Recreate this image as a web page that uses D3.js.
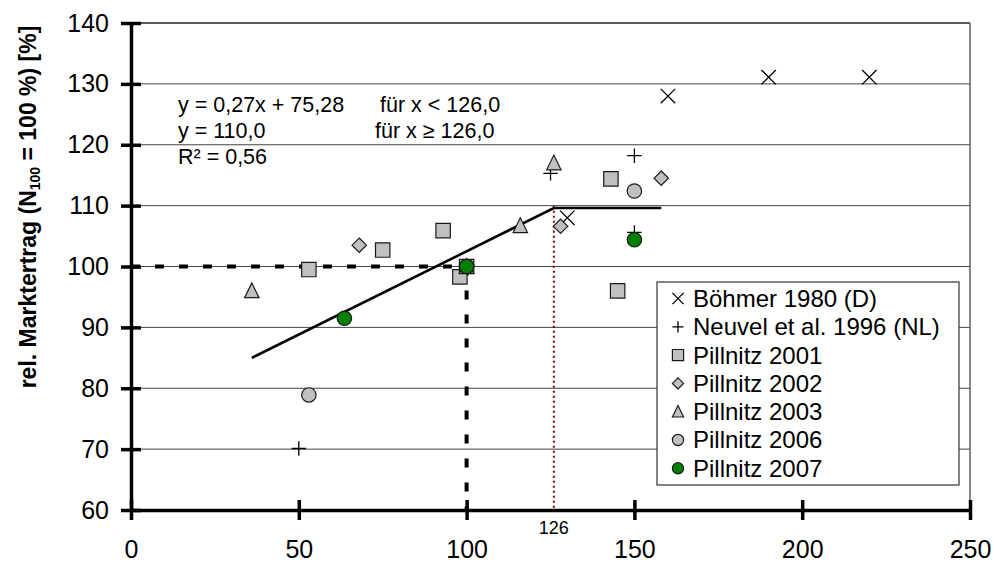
<!DOCTYPE html>
<html>
<head>
<meta charset="utf-8">
<script src="https://cdn.jsdelivr.net/npm/d3@7"></script>
<style>
  body { margin: 0; background: #fff; }
  text { font-family: "Liberation Sans", Arial, sans-serif; fill: #000; }
</style>
</head>
<body>
<div id="chart"></div>
<script>
// chart data
var xTicks = [0, 50, 100, 150, 200, 250];
var yTicks = [60, 70, 80, 90, 100, 110, 120, 130, 140];

var seriesNames = ["Böhmer 1980 (D)", "Neuvel et al. 1996 (NL)", "Pillnitz 2001",
                   "Pillnitz 2002", "Pillnitz 2003", "Pillnitz 2006", "Pillnitz 2007"];
var seriesShapes = ["x", "plus", "square", "diamond", "triangle", "circle", "circle"];
var seriesFills = ["none", "none", "#c0c0c0", "#c0c0c0", "#c0c0c0", "#c0c0c0", "#008000"];

var boehmer = [[130, 108.0], [160, 128.0], [190, 131.1], [220, 131.1]];
var neuvel = [[50, 70.1], [125, 115.3], [150, 118.2], [150, 105.6]];
var pill2001 = [[53, 99.5], [75, 102.7], [93, 105.9], [98, 98.3], [100, 100], [143, 114.4], [145, 96.0]];
var pill2002 = [[68, 103.5], [100, 100], [128, 106.6], [158, 114.5]];
var pill2003 = [[36, 96.0], [100, 100], [116, 106.7], [126, 117.0]];
var pill2006 = [[53, 78.9], [100, 100], [150, 112.4]];
var pill2007 = [[63.6, 91.5], [100, 100], [150, 104.4]];
var seriesData = [boehmer, neuvel, pill2001, pill2002, pill2003, pill2006, pill2007];

// piecewise fit: y = 0,27x + 75,28 for x < 126, y = 110 above
var fitLine = [[36, 85.0], [126, 109.6], [158, 109.6]];
var refX = 100, refY = 100, breakX = 126, breakY = 110;

var eqLeft = ["y = 0,27x + 75,28", "y = 110,0", "R² = 0,56"];
var eqRight = ["für x < 126,0", "für x ≥ 126,0", ""];

var width = 994, height = 563;

var svg = d3.select("#chart")
    .append("svg")
    .attr("width", width)
    .attr("height", height);

var x = d3.scaleLinear().domain([0, 250]).range([131, 970]);
var y = d3.scaleLinear().domain([60, 140]).range([510, 23]);

// gridlines
svg.append("g")
    .selectAll("line")
    .data(yTicks.slice(1))
    .enter()
    .append("line")
    .attr("x1", x(0))
    .attr("x2", x(250))
    .attr("y1", function(d) { return y(d); })
    .attr("y2", function(d) { return y(d); })
    .attr("stroke", function(d) { return d == 140 ? "#222" : "#444"; })
    .attr("stroke-width", function(d) { return d == 140 ? 1.6 : 1; });

// right border
svg.append("line")
    .attr("x1", x(250)).attr("x2", x(250))
    .attr("y1", y(140)).attr("y2", y(60))
    .attr("stroke", "#555")
    .attr("stroke-width", 1.4);

// reference lines N100 = 100 %
svg.append("line")
    .attr("x1", x(0)).attr("x2", x(refX))
    .attr("y1", y(refY)).attr("y2", y(refY))
    .attr("stroke", "#000")
    .attr("stroke-width", 4)
    .attr("stroke-dasharray", "9,15");

svg.append("line")
    .attr("x1", x(refX)).attr("x2", x(refX))
    .attr("y1", y(refY)).attr("y2", y(60))
    .attr("stroke", "#000")
    .attr("stroke-width", 4)
    .attr("stroke-dasharray", "9,15");

// break point line
svg.append("line")
    .attr("x1", x(breakX)).attr("x2", x(breakX))
    .attr("y1", y(breakY)).attr("y2", y(60))
    .attr("stroke", "#8b0000")
    .attr("stroke-width", 2)
    .attr("stroke-dasharray", "2,3");

// fitted line
var line = d3.line()
    .x(function(d) { return x(d[0]); })
    .y(function(d) { return y(d[1]); });

svg.append("path")
    .datum(fitLine)
    .attr("d", line)
    .attr("fill", "none")
    .attr("stroke", "#000")
    .attr("stroke-width", 2.6);

// marker shapes
function markerPath(shape, s) {
    if (shape == "x") return "M" + (-s) + "," + (-s) + "L" + s + "," + s + "M" + (-s) + "," + s + "L" + s + "," + (-s);
    if (shape == "plus") return "M" + (-s) + ",0L" + s + ",0M0," + (-s) + "L0," + s;
    if (shape == "square") return "M" + (-s) + "," + (-s) + "H" + s + "V" + s + "H" + (-s) + "Z";
    if (shape == "diamond") return "M0," + (-s) + "L" + s + ",0L0," + s + "L" + (-s) + ",0Z";
    if (shape == "triangle") return "M0," + (-s * 1.1) + "L" + s + "," + (s * 0.95) + "L" + (-s) + "," + (s * 0.95) + "Z";
    return "M" + s + ",0A" + s + "," + s + " 0 1,1 " + (-s) + ",0A" + s + "," + s + " 0 1,1 " + s + ",0Z";
}

function drawMarker(g, i, s) {
    var shape = seriesShapes[i];
    var line = (shape == "x" || shape == "plus");
    g.append("path")
      .attr("d", markerPath(shape, s))
      .attr("fill", seriesFills[i])
      .attr("stroke", line ? "#000" : "#1a1a1a")
      .attr("stroke-width", line ? 1.3 : 1.2);
}

var pointsGroup = svg.append("g");
seriesData.forEach(function(pts, i) {
    pointsGroup.selectAll(".s" + i)
      .data(pts)
      .enter()
      .append("g")
      .attr("class", "s" + i)
      .attr("transform", function(d) { return "translate(" + x(d[0]) + "," + y(d[1]) + ")"; })
      .each(function() { drawMarker(d3.select(this), i, 7.2); });
});

// equation text
var eqGroup = svg.append("g").attr("font-size", "21.5px");
eqGroup.selectAll(".eqL")
    .data(eqLeft)
    .enter()
    .append("text")
    .attr("x", 178)
    .attr("y", function(d, i) { return 112 + i * 26; })
    .text(function(d) { return d; });
eqGroup.selectAll(".eqR")
    .data(eqRight)
    .enter()
    .append("text")
    .attr("x", function(d, i) { return i == 0 ? 380 : 375; })
    .attr("y", function(d, i) { return 112 + i * 26; })
    .text(function(d) { return d; });

// axes
var yAxis = svg.append("g")
    .attr("transform", "translate(" + x(0) + ",0)")
    .call(d3.axisLeft(y).tickValues(yTicks).tickSizeInner(10).tickSizeOuter(0).tickPadding(12));
var xAxis = svg.append("g")
    .attr("transform", "translate(0," + y(60) + ")")
    .call(d3.axisBottom(x).tickValues(xTicks).tickSizeInner(10).tickSizeOuter(0).tickPadding(20));

[yAxis, xAxis].forEach(function(a) {
    a.select(".domain").attr("stroke", "#000").attr("stroke-width", 3.5);
    a.selectAll(".tick line").attr("stroke", "#000").attr("stroke-width", 3.5);
    a.selectAll(".tick text").attr("font-size", "25px").attr("fill", "#000")
      .attr("font-family", "Liberation Sans, Arial, sans-serif");
});
yAxis.selectAll(".tick line").attr("x1", 10);
xAxis.selectAll(".tick line").attr("y1", -10);

// label of the break point
svg.append("text")
    .attr("x", x(breakX))
    .attr("y", 534)
    .attr("text-anchor", "middle")
    .attr("font-size", "18px")
    .text(breakX);

// y axis title
var yTitle = svg.append("text")
    .attr("transform", "translate(36,207) rotate(-90)")
    .attr("text-anchor", "middle")
    .attr("font-size", "23px")
    .attr("font-weight", "bold");
yTitle.append("tspan").text("rel. Marktertrag (N");
yTitle.append("tspan").attr("font-size", "14px").attr("dy", 4).text("100");
yTitle.append("tspan").attr("dy", -4).text(" = 100 %) [%]");

// legend
var legend = svg.append("g");
legend.append("rect")
    .attr("x", 657).attr("y", 282)
    .attr("width", 302).attr("height", 203)
    .attr("fill", "#fff")
    .attr("stroke", "#333")
    .attr("stroke-width", 1.2);

var items = legend.selectAll(".item")
    .data(seriesNames)
    .enter()
    .append("g")
    .attr("class", "item")
    .attr("transform", function(d, i) { return "translate(678," + (298.5 + i * 28.3) + ")"; });

items.each(function(d, i) { drawMarker(d3.select(this), i, 5.6); });

items.append("text")
    .attr("x", 15)
    .attr("dy", "0.35em")
    .attr("font-size", "24px")
    .text(function(d) { return d; });
</script>
</body>
</html>
